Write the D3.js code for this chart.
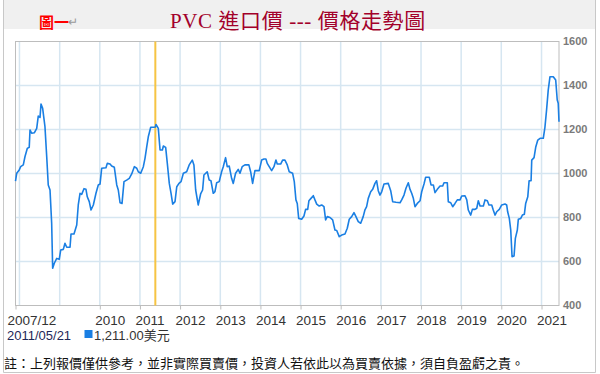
<!DOCTYPE html>
<html>
<head>
<meta charset="utf-8">
<script src="https://cdn.jsdelivr.net/npm/d3@7"></script>
<style>
  body { margin: 0; background: #fff; }
  text { font-family: "Liberation Sans", Arial, sans-serif; }
</style>
</head>
<body>
<script>
// weekly-ish PVC import price (USD)
const dates = [
  '2007-11-26','2007-12-07','2007-12-30','2008-01-12','2008-02-05','2008-02-20','2008-03-12','2008-03-30',
  '2008-04-06','2008-04-21','2008-05-15','2008-06-06','2008-06-20','2008-07-06','2008-07-15','2008-07-30',
  '2008-08-20','2008-09-05','2008-09-19','2008-10-05','2008-10-20','2008-10-29','2008-11-13','2008-12-05',
  '2008-12-28','2009-01-10','2009-02-03','2009-02-18','2009-03-06','2009-04-05','2009-04-14','2009-05-11',
  '2009-06-05','2009-06-19','2009-07-05','2009-07-20','2009-08-10','2009-08-28','2009-09-09','2009-09-27',
  '2009-10-13','2009-11-03','2009-11-27','2009-12-18','2010-01-03','2010-01-18','2010-02-26','2010-03-10',
  '2010-04-04','2010-04-19','2010-05-13','2010-06-04','2010-06-18','2010-07-04','2010-07-22','2010-08-09',
  '2010-09-02','2010-09-26','2010-10-18','2010-11-11','2010-12-03','2010-12-17','2011-01-08','2011-02-01',
  '2011-02-16','2011-03-04','2011-03-18','2011-04-09','2011-05-09','2011-05-21','2011-05-27','2011-06-17',
  '2011-07-03','2011-07-24','2011-08-02','2011-08-23','2011-09-07','2011-09-25','2011-10-11','2011-10-26',
  '2011-11-16','2011-12-02','2011-12-22','2012-01-10','2012-01-31','2012-03-01','2012-03-24','2012-04-21',
  '2012-05-06','2012-05-22','2012-06-14','2012-07-06','2012-07-24','2012-08-05','2012-09-04','2012-09-22',
  '2012-10-08','2012-10-29','2012-11-13','2012-11-29','2012-12-22','2013-01-13','2013-01-28','2013-02-18',
  '2013-03-05','2013-03-23','2013-04-14','2013-04-29','2013-05-20','2013-06-13','2013-06-29','2013-07-19',
  '2013-08-13','2013-09-18','2013-10-04','2013-10-22','2013-11-12','2013-12-21','2014-01-12','2014-02-02',
  '2014-02-20','2014-03-04','2014-03-22','2014-04-13','2014-05-04','2014-05-22','2014-06-03','2014-07-04',
  '2014-07-22','2014-08-12','2014-09-02','2014-09-20','2014-10-21','2014-11-05','2014-11-20','2014-12-02',
  '2014-12-15','2015-01-11','2015-02-01','2015-02-16','2015-03-07','2015-03-18','2015-04-06','2015-04-27',
  '2015-05-12','2015-05-28','2015-06-20','2015-07-12','2015-08-02','2015-08-17','2015-09-01','2015-09-26',
  '2015-10-20','2015-11-10','2015-11-26','2015-12-19','2016-01-10','2016-02-09','2016-03-01','2016-03-19',
  '2016-04-10','2016-05-01','2016-05-19','2016-06-09','2016-07-01','2016-07-24','2016-08-09','2016-08-24',
  '2016-09-08','2016-09-30','2016-10-18','2016-11-08','2016-11-23','2016-12-08','2016-12-23','2017-01-08',
  '2017-01-29','2017-03-09','2017-03-31','2017-04-18','2017-05-18','2017-06-24','2017-07-09','2017-07-30',
  '2017-08-17','2017-09-07','2017-09-23','2017-10-08','2017-10-23','2017-11-07','2017-11-28','2017-12-23',
  '2018-01-07','2018-01-28','2018-02-12','2018-03-17','2018-04-02','2018-04-23','2018-05-08','2018-05-29',
  '2018-06-23','2018-07-17','2018-07-29','2018-08-28','2018-09-06','2018-09-28','2018-10-16','2018-11-06',
  '2018-11-27','2018-12-22','2019-01-06','2019-02-05','2019-02-21','2019-03-07','2019-03-29','2019-04-13',
  '2019-05-07','2019-05-23','2019-06-06','2019-06-22','2019-07-22','2019-08-06','2019-08-27','2019-09-11',
  '2019-10-06','2019-10-20','2019-11-05','2019-11-20','2019-12-14','2020-01-05','2020-02-04','2020-02-19',
  '2020-02-28','2020-03-14','2020-03-27','2020-04-08','2020-04-26','2020-05-08','2020-05-26','2020-06-04',
  '2020-06-26','2020-07-11','2020-07-29','2020-08-10','2020-08-29','2020-09-10','2020-09-28','2020-10-04',
  '2020-10-25','2020-11-09','2020-11-28','2020-12-19','2021-01-17','2021-02-01','2021-02-16','2021-03-03',
  '2021-03-19','2021-04-18','2021-05-10','2021-05-24','2021-06-02','2021-06-09'
]
const prices = [
  965,1001,1016,1031,1039,1076,1114,1119,
  1198,1183,1185,1205,1261,1255,1316,1296,
  1213,1076,948,925,774,569,592,614,
  610,652,655,683,665,665,725,725,
  766,857,910,905,931,928,894,872,
  834,857,910,948,952,1024,1026,1046,
  1043,1034,1028,948,925,867,864,963,
  970,978,998,1031,1024,1008,1001,1031,
  1069,1122,1167,1210,1210,1211,1223,1205,
  1107,1107,1125,1119,1046,955,910,861,
  872,940,955,963,1001,1008,1039,1061,
  1039,925,857,907,925,993,1008,970,
  967,910,917,958,963,1008,1031,1072,
  1031,1034,978,955,1001,1019,1001,1031,
  1039,1039,1008,955,1013,1013,1061,1066,
  1066,1046,1031,1013,1031,1061,1043,1043,
  1061,1061,1039,1008,1001,963,880,864,
  796,792,807,837,837,876,887,899,
  880,861,852,857,849,789,804,800,
  789,743,741,713,720,725,751,792,
  804,822,804,781,774,804,835,849,
  887,917,928,955,967,922,902,917,
  952,955,922,872,869,867,880,902,
  933,958,928,910,887,849,864,876,
  917,952,983,983,948,948,913,928,
  943,943,958,958,872,867,849,864,
  880,880,898,899,880,834,811,837,
  837,842,876,852,852,880,876,857,
  857,834,811,826,837,857,861,857,
  826,796,743,622,625,705,743,792,
  796,811,815,864,894,967,967,1061,
  1072,1119,1152,1160,1160,1210,1289,1379,
  1440,1440,1425,1334,1319,1235
]

const yTicks = [400, 600, 800, 1000, 1200, 1400, 1600]
const xTickYears = [2010, 2011, 2012, 2013, 2014, 2015, 2016, 2017, 2018, 2019, 2020, 2021]
const gridYears = [2008, 2009, 2010, 2011, 2012, 2013, 2014, 2015, 2016, 2017, 2018, 2019, 2020, 2021]
const markDate = '2011-05-21'
const markValue = '1,211.00'

const title = 'PVC 進口價 --- 價格走勢圖'
const note = '註：上列報價僅供參考，並非實際買賣價，投資人若依此以為買賣依據，須自負盈虧之責。'

const parse = d3.timeParse('%Y-%m-%d')
const data = dates.map((d, i) => ({ date: parse(d), value: prices[i] }))

const W = 600, H = 374
const plotL = 15.5, plotR = 559, plotT = 41.5, plotB = 305.5

const svg = d3.select('body').append('svg')
  .attr('width', W)
  .attr('height', H)

// outer frame + grey header band
svg.append('rect')
  .attr('x', 3).attr('y', 0).attr('width', 593).attr('height', 29)
  .attr('fill', '#f0f0f0')
svg.append('path')
  .attr('d', 'M3.5,0V372.5H595.5V0')
  .attr('fill', 'none')
  .attr('stroke', '#c8c8c8')

svg.append('text')
  .attr('x', 39).attr('y', 28)
  .attr('font-size', 15).attr('font-weight', 'bold')
  .attr('fill', '#ff0000')
  .style('font-family', '"Noto Sans CJK TC", sans-serif')
  .text('圖一')
svg.append('text')
  .attr('x', 68).attr('y', 26)
  .attr('font-size', 12)
  .attr('fill', '#999')
  .text('↵')

svg.append('text')
  .attr('x', 170).attr('y', 28)
  .attr('font-size', 21)
  .attr('letter-spacing', 0.6)
  .attr('fill', '#a3002a')
  .style('font-family', '"Liberation Serif", "Noto Sans CJK TC", serif')
  .text(title)

const x = d3.scaleTime()
  .domain([data[0].date, data[data.length - 1].date])
  .range([plotL, plotR])
const y = d3.scaleLinear()
  .domain([400, 1600])
  .range([plotB, plotT])

// grid
svg.append('g').selectAll('line')
  .data(yTicks.slice(1, -1))
  .join('line')
  .attr('x1', plotL).attr('x2', plotR)
  .attr('y1', d => y(d)).attr('y2', d => y(d))
  .attr('stroke', '#d6e6f1').attr('stroke-width', 1.5)
svg.append('g').selectAll('line')
  .data(gridYears)
  .join('line')
  .attr('x1', d => x(new Date(d, 0, 1))).attr('x2', d => x(new Date(d, 0, 1)))
  .attr('y1', plotT).attr('y2', plotB)
  .attr('stroke', '#d6e6f1').attr('stroke-width', 1.5)

svg.append('rect')
  .attr('x', plotL).attr('y', plotT)
  .attr('width', plotR - plotL).attr('height', plotB - plotT)
  .attr('fill', 'none')
  .attr('stroke', '#bdbdbd')

// x axis
const xTicks = [data[0].date].concat(xTickYears.map(yr => new Date(yr, 0, 1)))
const xAxis = svg.append('g')
  .attr('transform', `translate(0,${plotB})`)
  .call(d3.axisBottom(x)
    .tickValues(xTicks)
    .tickSize(4)
    .tickFormat((d, i) => i === 0 ? '2007/12' : d.getFullYear()))
xAxis.select('.domain').remove()
xAxis.selectAll('.tick line').attr('stroke', '#bdbdbd')
xAxis.selectAll('.tick text')
  .attr('text-anchor', 'start')
  .attr('x', (d, i) => i === 0 ? -8.5 : -5)
  .attr('y', 19)
  .attr('dy', 0)
  .attr('font-size', 13.5)
  .attr('fill', '#333')
  .style('font-family', '"Liberation Sans", Arial, sans-serif')

// y axis on the right
const yAxis = svg.append('g')
  .attr('transform', `translate(${plotR + 4},0)`)
  .call(d3.axisRight(y).tickValues(yTicks).tickSize(0).tickPadding(0).tickFormat(d3.format('d')))
yAxis.select('.domain').remove()
yAxis.selectAll('.tick text')
  .attr('y', -1)
  .attr('font-size', 11)
  .attr('font-weight', 'bold')
  .attr('fill', '#7a7a7a')
  .style('font-family', '"Liberation Sans", Arial, sans-serif')

// marker line
svg.append('line')
  .attr('x1', x(parse(markDate))).attr('x2', x(parse(markDate)))
  .attr('y1', plotT).attr('y2', plotB)
  .attr('stroke', '#f6c443').attr('stroke-width', 2)

const line = d3.line()
  .x(d => x(d.date))
  .y(d => y(d.value))

svg.append('path')
  .datum(data)
  .attr('d', line)
  .attr('fill', 'none')
  .attr('stroke', '#1a7fe3')
  .attr('stroke-width', 1.6)
  .attr('stroke-linejoin', 'round')

// legend row
svg.append('text')
  .attr('x', 7).attr('y', 339.5)
  .attr('font-size', 13)
  .attr('fill', '#1f2858')
  .text(markDate.replace(/-/g, '/'))
svg.append('rect')
  .attr('x', 84.5).attr('y', 330).attr('width', 8).attr('height', 8)
  .attr('fill', '#1a7fe3')
svg.append('text')
  .attr('x', 94).attr('y', 339.5)
  .attr('font-size', 13)
  .attr('fill', '#333')
  .style('font-family', '"Liberation Sans", "Noto Sans CJK TC", sans-serif')
  .text(markValue + '美元')

svg.append('text')
  .attr('x', 4).attr('y', 368)
  .attr('font-size', 13)
  .attr('fill', '#111')
  .style('font-family', '"Noto Sans CJK TC", sans-serif')
  .text(note)
</script>
</body>
</html>
